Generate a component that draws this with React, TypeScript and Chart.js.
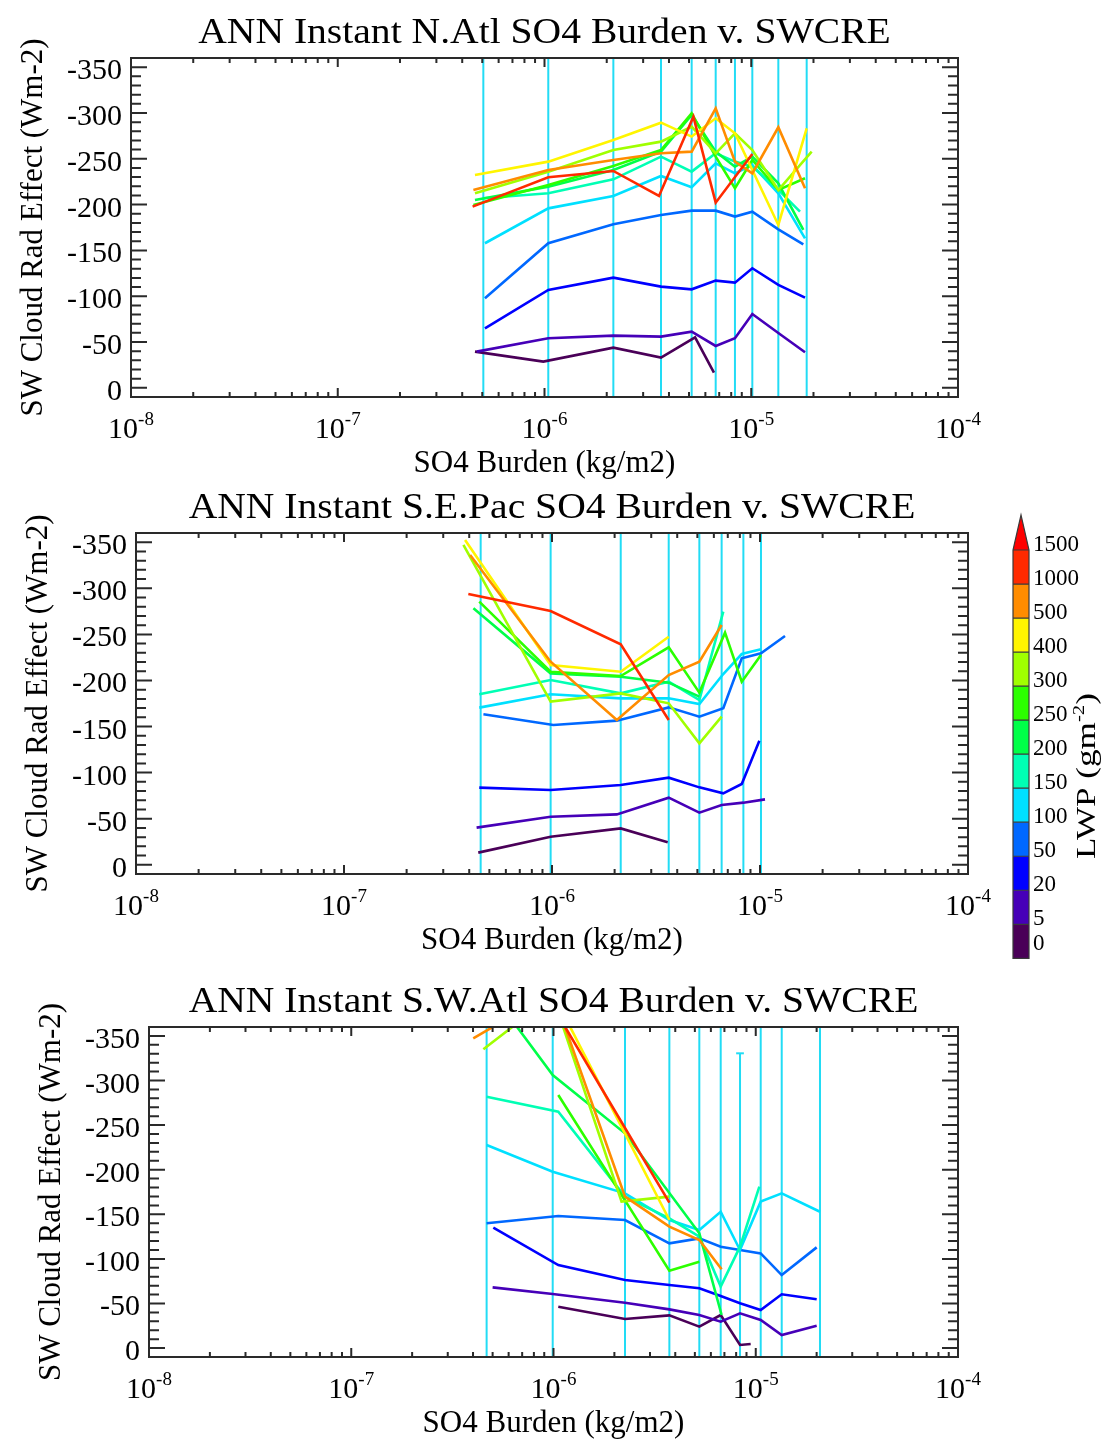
import React, { useEffect, useRef } from 'react';
import { Chart, registerables } from 'chart.js';

Chart.register(...registerables);

type Pt = [number, number];

const FONT = '"Liberation Serif", "Times New Roman", Times, serif';
const CYAN = '#22DCF5';

// LWP classes (g m-2) and their colours
const lwpLabels = ['0', '5', '20', '50', '100', '150', '200', '250', '300', '400', '500', '1000', '1500'];
const lwpColors = ['#4A0058', '#4600B8', '#0000FF', '#0068FF', '#00E0FF', '#00FFB4', '#00FF48', '#2CFF00', '#A0FF00', '#FFF500', '#FF8C00', '#FF2A00', '#FF0000'];

const yTickValues = [-350, -300, -250, -200, -150, -100, -50, 0];
const xDecades = [-8, -7, -6, -5, -4];

const titleNAtl = 'ANN Instant N.Atl SO4 Burden v. SWCRE';
const titleSEPac = 'ANN Instant S.E.Pac SO4 Burden v. SWCRE';
const titleSWAtl = 'ANN Instant S.W.Atl SO4 Burden v. SWCRE';
const xTitle = 'SO4 Burden (kg/m2)';
const yTitle = 'SW Cloud Rad Effect (Wm-2)';

// ---------- Panel 1: N.Atl ----------
const natlBins = [5.06e-7, 1.043e-6, 2.153e-6, 3.66e-6, 5.15e-6, 6.73e-6, 8.34e-6, 1.012e-5, 1.352e-5, 1.854e-5];
const natl0: Pt[] = [[4.61e-7, -39.5], [9.87e-7, -28.6], [2.153e-6, -43.9], [3.66e-6, -33.0], [5.35e-6, -55.1], [6.6e-6, -16.6]];
const natl5: Pt[] = [[4.7e-7, -39.5], [1.043e-6, -54.1], [2.153e-6, -57.0], [3.66e-6, -55.9], [5.15e-6, -61.3], [6.73e-6, -45.7], [8.34e-6, -54.1], [1.012e-5, -80.6], [1.352e-5, -59.9], [1.82e-5, -38.8]];
const natl20: Pt[] = [[5.15e-7, -65.0], [1.043e-6, -106.8], [2.153e-6, -120.3], [3.66e-6, -110.5], [5.15e-6, -107.5], [6.73e-6, -117.0], [8.34e-6, -114.8], [1.012e-5, -130.5], [1.352e-5, -112.3], [1.82e-5, -98.4]];
const natl50: Pt[] = [[5.15e-7, -97.7], [1.043e-6, -157.8], [2.153e-6, -178.5], [3.66e-6, -188.7], [5.15e-6, -193.4], [6.73e-6, -193.4], [8.34e-6, -186.9], [1.012e-5, -192.3], [1.352e-5, -173.0], [1.786e-5, -156.7]];
const natl100: Pt[] = [[5.15e-7, -157.8], [1.043e-6, -195.9], [2.153e-6, -209.4], [3.66e-6, -231.2], [5.15e-6, -218.9], [6.73e-6, -245.1], [8.34e-6, -234.1], [1.012e-5, -243.2], [1.352e-5, -212.3], [1.82e-5, -163.2]];
const natl150: Pt[] = [[5.06e-7, -206.9], [1.043e-6, -212.3], [2.153e-6, -227.6], [3.66e-6, -252.3], [5.15e-6, -236.0], [6.73e-6, -256.0], [8.34e-6, -246.9], [1.012e-5, -241.5], [1.352e-5, -216.0], [1.721e-5, -192.3]];
const natl200: Pt[] = [[4.61e-7, -205.0], [1.043e-6, -219.6], [2.153e-6, -237.8], [3.66e-6, -257.8], [5.15e-6, -297.8], [6.73e-6, -257.8], [8.34e-6, -241.4], [1.012e-5, -252.3], [1.352e-5, -223.2], [1.786e-5, -172.3]];
const natl250: Pt[] = [[4.53e-7, -199.6], [1.043e-6, -221.4], [2.153e-6, -242.1], [3.66e-6, -259.6], [5.15e-6, -299.6], [6.73e-6, -252.3], [8.34e-6, -217.8], [1.012e-5, -248.7], [1.352e-5, -215.9], [1.82e-5, -228.7]];
const natl300: Pt[] = [[4.61e-7, -212.3], [1.043e-6, -235.9], [2.153e-6, -259.6], [3.66e-6, -268.7], [5.15e-6, -285.0], [6.73e-6, -255.9], [8.34e-6, -277.8], [1.012e-5, -259.6], [1.352e-5, -215.9], [1.96e-5, -257.8]];
const natl400: Pt[] = [[4.61e-7, -232.3], [1.043e-6, -246.9], [2.153e-6, -270.5], [3.66e-6, -289.4], [5.15e-6, -274.2], [6.73e-6, -294.2], [8.34e-6, -277.8], [1.012e-5, -237.8], [1.352e-5, -177.8], [1.854e-5, -283.3]];
const natl500: Pt[] = [[4.53e-7, -216.0], [1.043e-6, -237.8], [2.153e-6, -248.7], [3.66e-6, -256.0], [5.15e-6, -257.8], [6.73e-6, -305.1], [8.34e-6, -246.9], [1.012e-5, -234.1], [1.352e-5, -284.4], [1.82e-5, -217.8]];
const natl1000: Pt[] = [[4.49e-7, -197.8], [1.043e-6, -229.8], [2.153e-6, -236.7], [3.58e-6, -209.4], [5.25e-6, -296.0], [6.73e-6, -202.1], [1.012e-5, -255.3]];

// ---------- Panel 2: S.E.Pac ----------
const sepacBins = [4.54e-7, 9.85e-7, 2.14e-6, 3.64e-6, 5.11e-6, 6.54e-6, 8.32e-6, 1.011e-5];
const sepac0: Pt[] = [[4.42e-7, -13.2], [9.85e-7, -30.5], [2.14e-6, -39.5], [3.6e-6, -24.4]];
const sepac5: Pt[] = [[4.34e-7, -40.3], [9.85e-7, -52.2], [2.05e-6, -54.7], [3.64e-6, -72.8], [5.11e-6, -56.6], [6.54e-6, -64.9], [8.32e-6, -67.4], [1.057e-5, -71.0]];
const sepac20: Pt[] = [[4.47e-7, -83.7], [9.85e-7, -81.2], [2.14e-6, -86.6], [3.64e-6, -94.5], [5.11e-6, -84.0], [6.66e-6, -77.5], [8.17e-6, -87.7], [9.93e-6, -134.7]];
const sepac50: Pt[] = [[4.68e-7, -163.3], [1.015e-6, -151.7], [2.05e-6, -156.4], [3.64e-6, -170.8], [5.11e-6, -160.7], [6.66e-6, -169.8], [8.17e-6, -224.0], [1.011e-5, -229.4], [1.319e-5, -248.2]];
const sepac100: Pt[] = [[4.47e-7, -170.5], [9.85e-7, -185.0], [2.14e-6, -180.6], [3.64e-6, -180.6], [5.11e-6, -174.5], [6.66e-6, -207.0], [8.17e-6, -228.7], [1.011e-5, -233.8]];
const sepac150: Pt[] = [[4.47e-7, -185.0], [9.85e-7, -200.5], [2.14e-6, -186.0], [3.64e-6, -198.7], [5.11e-6, -178.8], [6.66e-6, -274.6]];
const sepac200: Pt[] = [[4.19e-7, -278.3], [9.85e-7, -207.7], [2.14e-6, -204.1], [3.64e-6, -197.6], [5.11e-6, -182.4]];
const sepac250: Pt[] = [[4.47e-7, -285.5], [9.85e-7, -209.5], [2.14e-6, -204.8], [3.64e-6, -236.0], [5.11e-6, -186.8], [6.79e-6, -251.9], [8.17e-6, -198.7], [1.011e-5, -227.6]];
const sepac300: Pt[] = [[3.75e-7, -347.0], [9.85e-7, -177.0], [2.14e-6, -186.0], [3.64e-6, -175.2], [5.11e-6, -131.8], [6.54e-6, -160.7]];
const sepac400: Pt[] = [[3.82e-7, -352.4], [9.85e-7, -216.8], [2.14e-6, -209.5], [3.64e-6, -247.5]];
const sepac500: Pt[] = [[4.04e-7, -336.1], [9.85e-7, -220.4], [2.05e-6, -157.1], [3.64e-6, -205.9], [5.11e-6, -220.4], [6.54e-6, -260.2]];
const sepac1000: Pt[] = [[3.96e-7, -293.8], [9.85e-7, -275.4], [2.14e-6, -239.2], [3.64e-6, -157.1]];

// ---------- Panel 3: S.W.Atl ----------
const swatlBins = [4.67e-7, 9.91e-7, 2.257e-6, 3.74e-6, 5.26e-6, 6.71e-6, 1.058e-5, 1.344e-5, 2.078e-5];
const swatlCapX = 8.36e-6;
const swatlCapY = -330.5;
const swatl0: Pt[] = [[1.056e-6, -46.4], [2.257e-6, -32.6], [3.74e-6, -36.7], [5.26e-6, -24.0], [6.71e-6, -37.1], [8.36e-6, -3.5], [9.44e-6, -4.6]];
const swatl5: Pt[] = [[5.0e-7, -68.1], [9.91e-7, -60.6], [2.257e-6, -50.9], [3.74e-6, -43.4], [5.26e-6, -37.1], [6.71e-6, -29.6], [8.36e-6, -39.0], [1.058e-5, -31.5], [1.344e-5, -14.7], [2.001e-5, -25.1]];
const swatl20: Pt[] = [[5.04e-7, -135.0], [1.056e-6, -93.1], [2.257e-6, -76.3], [3.74e-6, -70.7], [5.26e-6, -67.0], [6.71e-6, -58.4], [8.36e-6, -50.2], [1.058e-5, -42.7], [1.344e-5, -60.3], [2.001e-5, -54.7]];
const swatl50: Pt[] = [[4.67e-7, -139.9], [1.056e-6, -148.1], [2.257e-6, -143.6], [3.74e-6, -117.4], [5.26e-6, -123.0], [6.71e-6, -113.7], [8.36e-6, -110.0], [1.058e-5, -106.2], [1.344e-5, -81.9], [2.001e-5, -112.9]];
const swatl100: Pt[] = [[4.67e-7, -227.7], [9.91e-7, -197.8], [2.257e-6, -173.5], [3.74e-6, -143.6], [5.26e-6, -132.4], [6.71e-6, -152.9], [8.36e-6, -110.0], [1.058e-5, -164.2], [1.344e-5, -173.5], [2.078e-5, -152.9]];
const swatl150: Pt[] = [[4.67e-7, -281.9], [1.056e-6, -265.1], [2.257e-6, -169.8], [3.74e-6, -145.5], [5.26e-6, -124.9], [6.71e-6, -68.9], [8.36e-6, -113.7], [1.042e-5, -181.0]];
const swatl200: Pt[] = [[4.67e-7, -406.0], [9.91e-7, -306.2], [2.257e-6, -240.8], [5.26e-6, -128.7], [6.78e-6, -37.1]];
const swatl250: Pt[] = [[1.056e-6, -283.8], [2.257e-6, -165.6], [3.74e-6, -86.8], [5.26e-6, -96.9]];
const swatl300: Pt[] = [[4.5e-7, -335.0], [9.91e-7, -395.0], [2.17e-6, -164.2], [3.74e-6, -169.8]];
const swatl400: Pt[] = [[9.91e-7, -398.0], [2.257e-6, -240.4], [3.74e-6, -143.6]];
const swatl500: Pt[] = [[4.01e-7, -347.3], [9.91e-7, -399.0], [2.257e-6, -169.8], [3.74e-6, -136.1], [5.26e-6, -121.2], [6.78e-6, -88.3]];
const swatl1000: Pt[] = [[9.91e-7, -383.5], [2.257e-6, -246.8], [3.74e-6, -163.0]];

const natlSeries = [natl0, natl5, natl20, natl50, natl100, natl150, natl200, natl250, natl300, natl400, natl500, natl1000];
const sepacSeries = [sepac0, sepac5, sepac20, sepac50, sepac100, sepac150, sepac200, sepac250, sepac300, sepac400, sepac500, sepac1000];
const swatlSeries = [swatl0, swatl5, swatl20, swatl50, swatl100, swatl150, swatl200, swatl250, swatl300, swatl400, swatl500, swatl1000];

type Run = { text: string; size: number; rise?: number };

function drawRuns(ctx: CanvasRenderingContext2D, runs: Run[], x: number, y: number, align: 'left' | 'center' | 'right', stretch = 1) {
  let total = 0;
  const widths = runs.map((r) => {
    ctx.font = `${r.size}px ${FONT}`;
    const w = ctx.measureText(r.text).width;
    total += w;
    return w;
  });
  ctx.save();
  ctx.translate(x, y);
  ctx.scale(stretch, 1);
  let cx = align === 'center' ? -total / 2 : align === 'right' ? -total : 0;
  ctx.textAlign = 'left';
  ctx.textBaseline = 'alphabetic';
  runs.forEach((r, i) => {
    ctx.font = `${r.size}px ${FONT}`;
    ctx.fillText(r.text, cx, -(r.rise || 0));
    cx += widths[i];
  });
  ctx.restore();
}

type PanelProps = {
  top: number;
  pad: { left: number; right: number; top: number; bottom: number };
  title: string;
  bins: number[];
  series: Pt[][];
  capX?: number;
  capY?: number;
  colorbar?: boolean;
};

function drawColorbar(ctx: CanvasRenderingContext2D) {
  const x0 = 1013, x1 = 1029, apex = 35, base = 70, bottom = 478.3;
  const n = 12;
  const h = (bottom - base) / n;
  for (let i = 0; i < n; i++) {
    ctx.fillStyle = lwpColors[i];
    ctx.fillRect(x0, bottom - (i + 1) * h, x1 - x0, h);
  }
  ctx.fillStyle = lwpColors[12];
  ctx.beginPath();
  ctx.moveTo(x0, base);
  ctx.lineTo((x0 + x1) / 2, apex);
  ctx.lineTo(x1, base);
  ctx.closePath();
  ctx.fill();
  ctx.strokeStyle = '#3a3a3a';
  ctx.lineWidth = 1.2;
  ctx.beginPath();
  for (let i = 1; i <= n; i++) {
    const yy = bottom - i * h;
    ctx.moveTo(x0, yy);
    ctx.lineTo(x1, yy);
  }
  ctx.moveTo(x0, bottom);
  ctx.lineTo(x0, base);
  ctx.lineTo((x0 + x1) / 2, apex);
  ctx.lineTo(x1, base);
  ctx.lineTo(x1, bottom);
  ctx.closePath();
  ctx.stroke();
  ctx.fillStyle = '#000';
  lwpLabels.forEach((lab, i) => {
    const yy = i === 0 ? bottom - 8 : bottom - i * h + 1;
    drawRuns(ctx, [{ text: lab, size: 23 }], 1033, yy, 'left');
  });
  ctx.save();
  ctx.translate(1095, 296);
  ctx.rotate(-Math.PI / 2);
  drawRuns(ctx, [{ text: 'LWP (gm', size: 27 }, { text: '-2', size: 16, rise: 11 }, { text: ')', size: 27 }], 0, 0, 'center', 1.3);
  ctx.restore();
}

function decorPlugin(p: PanelProps) {
  return {
    id: 'decor',
    afterDraw(chart: any) {
      const ctx = chart.ctx as CanvasRenderingContext2D;
      const a = chart.chartArea;
      const xs = chart.scales.x;
      const ys = chart.scales.y;
      ctx.save();
      ctx.strokeStyle = '#2a2a2a';
      ctx.lineWidth = 2;
      ctx.beginPath();
      ctx.rect(a.left, a.top, a.right - a.left, a.bottom - a.top);
      ctx.stroke();
      ctx.beginPath();
      xDecades.forEach((e) => {
        for (let m = 1; m <= 9; m++) {
          if (e === -4 && m > 1) break;
          const px = xs.getPixelForValue(m * Math.pow(10, e));
          const len = m === 1 ? 9 : 5;
          ctx.moveTo(px, a.bottom);
          ctx.lineTo(px, a.bottom - len);
          ctx.moveTo(px, a.top);
          ctx.lineTo(px, a.top + len);
        }
      });
      for (let v = -350; v <= 0; v += 10) {
        const py = ys.getPixelForValue(v);
        const len = v % 50 === 0 ? 16 : 10;
        ctx.moveTo(a.left, py);
        ctx.lineTo(a.left + len, py);
        ctx.moveTo(a.right, py);
        ctx.lineTo(a.right - len, py);
      }
      ctx.stroke();

      ctx.fillStyle = '#000';
      yTickValues.forEach((v) => {
        const py = ys.getPixelForValue(v);
        drawRuns(ctx, [{ text: String(v), size: 30 }], a.left - 9, py + 12, 'right');
      });
      xDecades.forEach((e) => {
        const px = xs.getPixelForValue(Math.pow(10, e));
        drawRuns(ctx, [{ text: '10', size: 30 }, { text: String(e), size: 19, rise: 13 }], px, a.bottom + 41, 'center');
      });
      const cx = (a.left + a.right) / 2;
      drawRuns(ctx, [{ text: p.title, size: 36 }], cx, a.top - 15, 'center', 1.1);
      drawRuns(ctx, [{ text: xTitle, size: 31 }], cx, a.bottom + 75, 'center');
      ctx.save();
      ctx.translate(a.left - 89, (a.top + a.bottom) / 2);
      ctx.rotate(-Math.PI / 2);
      drawRuns(ctx, [{ text: yTitle, size: 31 }], 0, 0, 'center');
      ctx.restore();

      if (p.colorbar) drawColorbar(ctx);
      ctx.restore();
    },
  };
}

function PlotPanel(p: PanelProps) {
  const ref = useRef<HTMLCanvasElement>(null);
  useEffect(() => {
    const canvas = ref.current;
    if (!canvas) return;
    const datasets: any[] = [];
    p.bins.forEach((b) => {
      datasets.push({
        data: [{ x: b, y: 10 }, { x: b, y: -360 }],
        borderColor: CYAN,
        borderWidth: 2,
        pointRadius: 0,
        order: 100,
      });
    });
    if (p.capX !== undefined && p.capY !== undefined) {
      datasets.push({
        data: [{ x: p.capX, y: 10 }, { x: p.capX, y: p.capY }],
        borderColor: CYAN,
        borderWidth: 2,
        pointRadius: 0,
        order: 100,
      });
      datasets.push({
        data: [{ x: p.capX / 1.045, y: p.capY }, { x: p.capX * 1.045, y: p.capY }],
        borderColor: CYAN,
        borderWidth: 2,
        pointRadius: 0,
        order: 100,
      });
    }
    p.series.forEach((s, i) => {
      datasets.push({
        data: s.map(([x, y]) => ({ x, y })),
        borderColor: lwpColors[i],
        borderWidth: 2.6,
        pointRadius: 0,
        order: 50 - i,
      });
    });
    const chart = new Chart(canvas, {
      type: 'line',
      data: { datasets },
      options: {
        animation: false,
        responsive: false,
        maintainAspectRatio: false,
        events: [],
        layout: { padding: p.pad },
        elements: { line: { tension: 0 }, point: { radius: 0 } },
        plugins: { legend: { display: false }, tooltip: { enabled: false }, title: { display: false } },
        scales: {
          x: { type: 'logarithmic', min: 1e-8, max: 1e-4, display: false },
          y: { type: 'linear', min: -360, max: 10, reverse: true, display: false },
        },
      } as any,
      plugins: [decorPlugin(p)],
    });
    return () => chart.destroy();
  }, []);
  return (
    <canvas
      ref={ref}
      width={1106}
      height={480}
      style={{ position: 'absolute', left: 0, top: p.top, width: 1106, height: 480 }}
    />
  );
}

export default function App() {
  return (
    <div style={{ position: 'absolute', left: 0, top: 0, width: 1106, height: 1440, background: '#fff' }}>
      <PlotPanel top={0} pad={{ left: 131, right: 148, top: 58, bottom: 83 }} title={titleNAtl} bins={natlBins} series={natlSeries} />
      <PlotPanel top={480} pad={{ left: 136, right: 138, top: 53, bottom: 86 }} title={titleSEPac} bins={sepacBins} series={sepacSeries} colorbar />
      <PlotPanel top={960} pad={{ left: 149, right: 148, top: 67, bottom: 83 }} title={titleSWAtl} bins={swatlBins} series={swatlSeries} capX={swatlCapX} capY={swatlCapY} />
    </div>
  );
}
